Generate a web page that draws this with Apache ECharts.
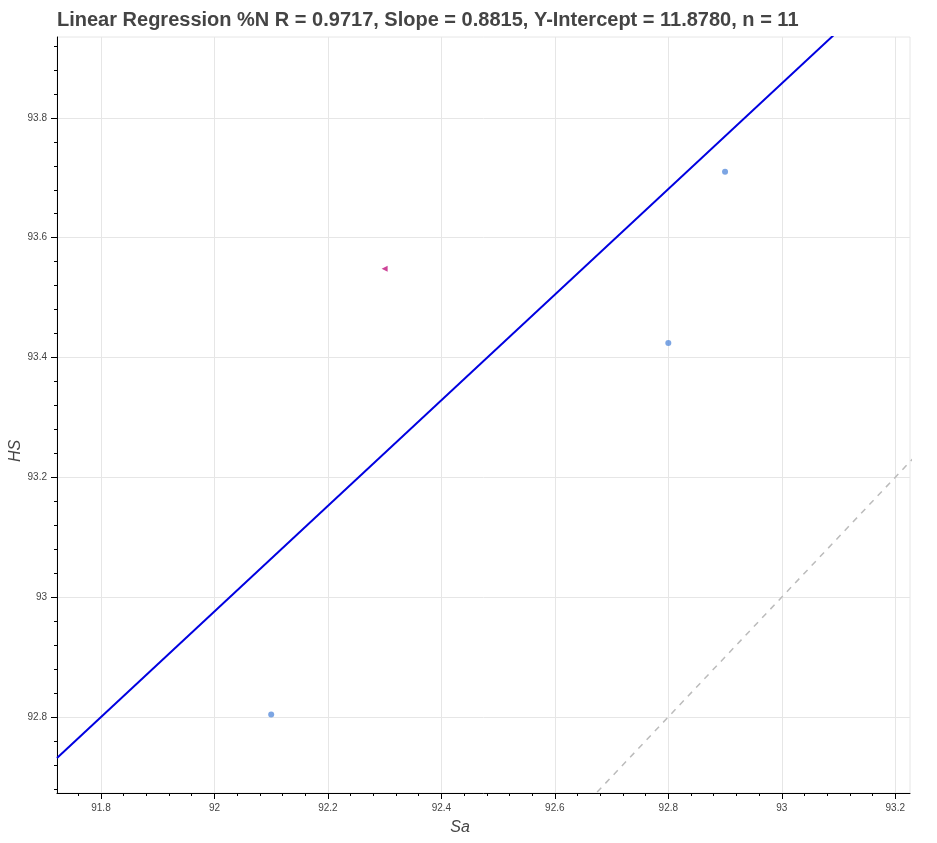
<!DOCTYPE html>
<html><head><meta charset="utf-8">
<script src="https://cdn.jsdelivr.net/npm/echarts@6/dist/echarts.min.js"></script>
<style>html,body{margin:0;padding:0;background:#fff}#c{width:937px;height:843px}</style>
</head><body><div id="c"></div>
<script>
const titleText = 'Linear Regression %N R = 0.9717, Slope = 0.8815, Y-Intercept = 11.8780, n = 11';
const xName = 'Sa';
const yName = 'HS';
const xRange = [91.7225, 93.226];
const yRange = [92.673, 93.935];
const xTicks = [91.8, 92, 92.2, 92.4, 92.6, 92.8, 93, 93.2];
const yTicks = [92.8, 93, 93.2, 93.4, 93.6, 93.8];
const circlePoints = [[92.1, 92.804], [92.8, 93.424], [92.9, 93.71]];
const trianglePoints = [[92.3, 93.548]];
const slope = 0.8815;
const intercept = 11.8780;

const regLine = xRange.map(x => [x, slope * x + intercept]);
const idLine = [[92.5, 92.5], [93.4, 93.4]];

function minors(ticks, range) {
  const step = (ticks[1] - ticks[0]) / 5;
  const out = [];
  for (let k = -10; k < ticks.length * 5 + 10; k++) {
    const v = +(ticks[0] + k * step).toFixed(4);
    if (v >= range[0] && v <= range[1] && k % 5 !== 0) out.push(v);
  }
  return out;
}

const chart = echarts.init(document.getElementById('c'));
const font = 'Liberation Sans, Arial, sans-serif';
const labelStyle = {color: '#444', fontSize: 10, fontFamily: font};
const fmt = v => String(+(+v).toFixed(2));
chart.setOption({
  animation: false,
  title: {text: titleText, left: 52, top: 5,
    textStyle: {fontSize: 20, fontWeight: 'bold', color: '#444', fontFamily: font}},
  grid: {left: 57, right: 27, top: 37, bottom: 50, show: true, borderColor: '#e6e6e6', borderWidth: 1,
    outerBoundsMode: 'none', containLabel: false},
  graphic: [
    {type: 'text', x: 460, y: 828, style: {text: xName, font: 'italic 16px ' + font, fill: '#444',
      align: 'center', verticalAlign: 'middle'}},
    {type: 'text', x: 16, y: 451, rotation: Math.PI / 2, style: {text: yName, font: 'italic 16px ' + font,
      fill: '#444', align: 'center', verticalAlign: 'middle'}}
  ],
  xAxis: [
    {type: 'value', min: xRange[0], max: xRange[1],
      axisLine: {show: true, onZero: false, lineStyle: {color: '#000', width: 1}},
      axisTick: {show: true, length: 6, customValues: xTicks, lineStyle: {color: '#000'}},
      axisLabel: Object.assign({margin: 10, customValues: xTicks, formatter: fmt}, labelStyle),
      splitLine: {show: true, lineStyle: {color: '#e6e6e6'}}},
    {type: 'value', min: xRange[0], max: xRange[1], position: 'bottom', offset: 0,
      axisLine: {show: false},
      axisTick: {show: true, length: 3, customValues: minors(xTicks, xRange), lineStyle: {color: '#000'}},
      axisLabel: {show: false}, splitLine: {show: false}}
  ],
  yAxis: [
    {type: 'value', min: yRange[0], max: yRange[1],
      axisLine: {show: true, onZero: false, lineStyle: {color: '#000', width: 1}},
      axisTick: {show: true, length: 6, customValues: yTicks, lineStyle: {color: '#000'}},
      axisLabel: Object.assign({margin: 10, customValues: yTicks, formatter: fmt}, labelStyle),
      splitLine: {show: true, lineStyle: {color: '#e6e6e6'}}},
    {type: 'value', min: yRange[0], max: yRange[1], position: 'left', offset: 0,
      axisLine: {show: false},
      axisTick: {show: true, length: 3, customValues: minors(yTicks, yRange), lineStyle: {color: '#000'}},
      axisLabel: {show: false}, splitLine: {show: false}}
  ],
  series: [
    {type: 'line', data: idLine, showSymbol: false, symbol: 'none', clip: true,
      lineStyle: {color: '#bbbbbb', width: 1.5, type: [6, 6]}},
    {type: 'line', data: regLine, showSymbol: false, symbol: 'none', clip: true,
      lineStyle: {color: '#0000e0', width: 2}},
    {type: 'scatter', data: circlePoints, symbol: 'circle', symbolSize: 6,
      itemStyle: {color: '#5b8fdc'}},
    {type: 'scatter', data: trianglePoints, symbol: 'triangle', symbolSize: 6, symbolRotate: 90,
      itemStyle: {color: '#c0157e'}}
  ]
});
</script></body></html>
